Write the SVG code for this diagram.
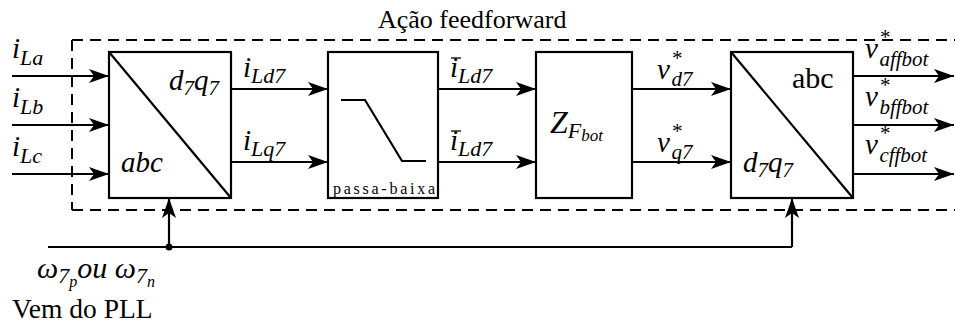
<svg xmlns="http://www.w3.org/2000/svg" width="955" height="327" viewBox="0 0 955 327">
<defs>
<marker id="ah" markerWidth="20" markerHeight="14" refX="20" refY="7" orient="auto" markerUnits="userSpaceOnUse">
<path d="M0,0 L20,7 L0,14 L5,7 Z" fill="#000"/>
</marker>
</defs>
<style>
.box{fill:#fff;stroke:#000;stroke-width:2.2}
.ln{fill:none;stroke:#000;stroke-width:2.2}
.dash{fill:none;stroke:#000;stroke-width:2;stroke-dasharray:11 7}
</style>
<rect x="0" y="0" width="955" height="327" fill="#fff"/>
<path class="dash" d="M72,40 H960 M72,40 V210 M72,210 H960"/>
<text x="378" y="28" font-size="26" font-family="'Liberation Serif', serif">Ação feedforward</text>

<g id="connectors">
<path class="ln" marker-end="url(#ah)" d="M12,76 H109"/>
<path class="ln" marker-end="url(#ah)" d="M12,125 H109"/>
<path class="ln" marker-end="url(#ah)" d="M12,174 H109"/>
<path class="ln" marker-end="url(#ah)" d="M231,89 H328"/>
<path class="ln" marker-end="url(#ah)" d="M231,162 H328"/>
<path class="ln" marker-end="url(#ah)" d="M438,89 H536"/>
<path class="ln" marker-end="url(#ah)" d="M438,162 H536"/>
<path class="ln" marker-end="url(#ah)" d="M632,89 H731"/>
<path class="ln" marker-end="url(#ah)" d="M632,162 H731"/>
<path class="ln" marker-end="url(#ah)" d="M853,76 H954"/>
<path class="ln" marker-end="url(#ah)" d="M853,125 H954"/>
<path class="ln" marker-end="url(#ah)" d="M853,174 H954"/>
<path class="ln" d="M48,247 H792"/>
<path class="ln" marker-end="url(#ah)" d="M169,247 V198"/>
<path class="ln" marker-end="url(#ah)" d="M792,247 V198"/>
<circle cx="169" cy="247" r="3.5" fill="#000"/>
</g>

<g id="labels">
<text x="12" y="58" font-family="'Liberation Serif', serif" font-style="italic" font-size="29">i<tspan font-size="22" dy="7">La</tspan></text>
<text x="12" y="107" font-family="'Liberation Serif', serif" font-style="italic" font-size="29">i<tspan font-size="22" dy="7">Lb</tspan></text>
<text x="12" y="156" font-family="'Liberation Serif', serif" font-style="italic" font-size="29">i<tspan font-size="22" dy="7">Lc</tspan></text>
<text x="243" y="77" font-family="'Liberation Serif', serif" font-style="italic" font-size="29">i<tspan font-size="22" dy="6">Ld7</tspan></text>
<text x="243" y="150" font-family="'Liberation Serif', serif" font-style="italic" font-size="29">i<tspan font-size="22" dy="6">Lq7</tspan></text>
<text x="450" y="77" font-family="'Liberation Serif', serif" font-style="italic" font-size="29">i<tspan font-size="22" dy="6">Ld7</tspan></text>
<line x1="451" y1="58" x2="461" y2="58" stroke="#000" stroke-width="1.3"/>
<text x="450" y="150" font-family="'Liberation Serif', serif" font-style="italic" font-size="29">i<tspan font-size="22" dy="6">Ld7</tspan></text>
<line x1="451" y1="131" x2="461" y2="131" stroke="#000" stroke-width="1.3"/>
<text x="657" y="79" font-family="'Liberation Serif', serif" font-style="italic" font-size="29">v<tspan font-size="21" dy="-14" dx="1">*</tspan><tspan font-size="21" dy="21" dx="-10">d7</tspan></text>
<text x="657" y="152" font-family="'Liberation Serif', serif" font-style="italic" font-size="29">v<tspan font-size="21" dy="-14" dx="1">*</tspan><tspan font-size="21" dy="21" dx="-10">q7</tspan></text>
<text x="865" y="58" font-family="'Liberation Serif', serif" font-style="italic" font-size="29">v<tspan font-size="21" dy="-14" dx="1">*</tspan><tspan font-size="21" dy="22" dx="-10">affbot</tspan></text>
<text x="865" y="106" font-family="'Liberation Serif', serif" font-style="italic" font-size="29">v<tspan font-size="21" dy="-14" dx="1">*</tspan><tspan font-size="21" dy="22" dx="-10">bffbot</tspan></text>
<text x="865" y="154" font-family="'Liberation Serif', serif" font-style="italic" font-size="29">v<tspan font-size="21" dy="-14" dx="1">*</tspan><tspan font-size="21" dy="22" dx="-10">cffbot</tspan></text>
<text x="37" y="278" font-family="'Liberation Serif', serif" font-style="italic" font-size="30">ω<tspan font-size="22" dy="5">7</tspan><tspan font-size="16" dy="4">p</tspan><tspan dy="-9">ou ω</tspan><tspan font-size="22" dy="5">7</tspan><tspan font-size="16" dy="4">n</tspan></text>
<text x="12" y="318" font-size="27.5" font-family="'Liberation Serif', serif">Vem do PLL</text>
</g>

<g id="abc-dq">
<rect class="box" x="109" y="52" width="122" height="146"/>
<line class="ln" x1="109" y1="52" x2="231" y2="198"/>
<text x="169" y="90" font-family="'Liberation Serif', serif" font-style="italic" font-size="29">d<tspan font-size="21" dy="5">7</tspan><tspan dy="-5">q</tspan><tspan font-size="21" dy="5">7</tspan></text>
<text x="121" y="172" font-family="'Liberation Serif', serif" font-style="italic" font-size="29">abc</text>
</g>

<g id="lowpass">
<rect class="box" x="328" y="52" width="110" height="146"/>
<path class="ln" d="M341,100 H365 L402,161 H426"/>
<text x="333" y="194" font-size="16" textLength="102" lengthAdjust="spacing" font-family="'Liberation Serif', serif">passa-baixa</text>
</g>

<g id="zf">
<rect class="box" x="536" y="52" width="96" height="146"/>
<text x="550" y="133" font-family="'Liberation Serif', serif" font-style="italic" font-size="32">Z<tspan font-size="22" dy="5">F</tspan><tspan font-size="17" dy="3">bot</tspan></text>
</g>

<g id="dq-abc">
<rect class="box" x="731" y="52" width="122" height="146"/>
<line class="ln" x1="731" y1="52" x2="853" y2="198"/>
<text x="792" y="88" font-size="30" font-family="'Liberation Serif', serif">abc</text>
<text x="743" y="172" font-family="'Liberation Serif', serif" font-style="italic" font-size="29">d<tspan font-size="21" dy="5">7</tspan><tspan dy="-5">q</tspan><tspan font-size="21" dy="5">7</tspan></text>
</g>
</svg>
